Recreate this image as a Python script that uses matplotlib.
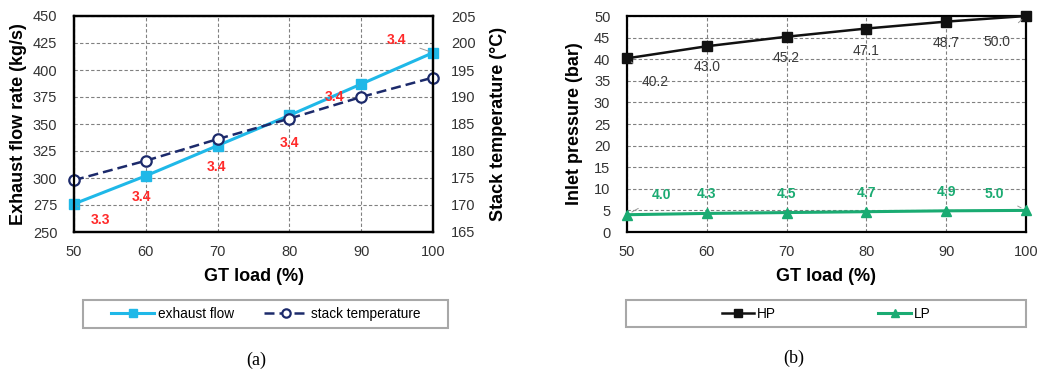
import matplotlib
matplotlib.use("Agg")
import matplotlib.pyplot as plt
from matplotlib.patches import Rectangle

plt.rcParams['font.family'] = ['Liberation Sans', 'DejaVu Sans']

# ---------------- data ----------------
gt_load = [50, 60, 70, 80, 90, 100]
exhaust_flow = [276, 302, 330, 358, 387, 416]          # kg/s
stack_temp = [174.6, 178.2, 182.2, 186.0, 190.0, 193.6]  # deg C
flow_labels = ["3.3", "3.4", "3.4", "3.4", "3.4", "3.4"]

hp_pressure = [40.2, 43.0, 45.2, 47.1, 48.7, 50.0]    # bar
lp_pressure = [4.0, 4.3, 4.5, 4.7, 4.9, 5.0]          # bar

left_yticks = [250, 275, 300, 325, 350, 375, 400, 425, 450]
right_yticks = [165, 170, 175, 180, 185, 190, 195, 200, 205]
press_yticks = [0, 5, 10, 15, 20, 25, 30, 35, 40, 45, 50]
x_ticks = [50, 60, 70, 80, 90, 100]

# ---------------- style ----------------
W, H = 1054, 374
C_FLOW = '#1fb8e8'
C_TEMP = '#1c2a6b'
C_HP = '#111111'
C_LP = '#1aab72'
C_RED = '#ff2a2a'
GRID = dict(linestyle=(0, (3, 2)), color='#808080', linewidth=0.8)
TICKFS = 10.5
LABFS = 13

fig = plt.figure(figsize=(W / 100, H / 100), dpi=100)


def ax_rect(x0, x1, y0, y1):
    return [x0 / W, 1 - y1 / H, (x1 - x0) / W, (y1 - y0) / H]


def style_axis(ax, ypad=12):
    for s in ax.spines.values():
        s.set_color('black')
        s.set_linewidth(1.6)
    ax.tick_params(length=0, labelsize=TICKFS, colors='#333333')
    ax.tick_params(axis='x', pad=9)
    ax.tick_params(axis='y', pad=ypad)


# ---------------- panel (a) ----------------
ax1 = fig.add_axes(ax_rect(74, 433, 16, 232))
ax1.set_xlim(50, 100)
ax1.set_ylim(250, 450)
ax1.set_xticks(x_ticks)
ax1.set_yticks(left_yticks)
ax1.grid(True, **GRID)
ax1.set_axisbelow(True)
style_axis(ax1)
l_flow, = ax1.plot(gt_load, exhaust_flow, color=C_FLOW, lw=2.2, marker='s',
                   markersize=7.5, zorder=3, label='exhaust flow', clip_on=False)
ax1.set_ylabel('Exhaust flow rate (kg/s)', fontsize=LABFS, fontweight='bold', labelpad=4)
ax1.set_xlabel('GT load (%)', fontsize=LABFS, fontweight='bold', labelpad=7)

ax1b = ax1.twinx()
ax1b.set_ylim(165, 205)
ax1b.set_yticks(right_yticks)
style_axis(ax1b, ypad=13)
l_temp, = ax1b.plot(gt_load, stack_temp, color=C_TEMP, lw=1.8, ls=(0, (4, 2)),
                    marker='o', markersize=7.5, markerfacecolor='white',
                    markeredgewidth=1.6, label='stack temperature', clip_on=False)
ax1b.set_ylabel('Stack temperature (°C)', fontsize=LABFS, fontweight='bold', labelpad=10)

flow_offsets = [(19, -11.5), (-3, -15), (-0.5, -15.5), (0, -20), (-19, -9.5), (-26, 9)]
flow_leader = [True, False, False, False, True, True]
for x, y, t, off, lead in zip(gt_load, exhaust_flow, flow_labels, flow_offsets, flow_leader):
    ax1.annotate(t, xy=(x, y), xytext=off, textcoords='offset points',
                 ha='center', va='center', fontsize=10, fontweight='bold', color=C_RED,
                 arrowprops=(dict(arrowstyle='-', color='#999999', lw=0.7,
                                  shrinkA=8, shrinkB=3) if lead else None),
                 zorder=5)

# legend (a)
fig.patches.append(Rectangle((83 / W, 1 - 328 / H), 365 / W, 28 / H, transform=fig.transFigure,
                             facecolor='white', edgecolor='#a8a8a8', lw=1.5))
fig.legend([l_flow, l_temp], ['exhaust flow', 'stack temperature'], loc='center',
           bbox_to_anchor=((83 + 448) / 2 / W, 1 - 314 / H), ncol=2, frameon=False,
           fontsize=9.8, handlelength=3.2, handletextpad=0.25, columnspacing=2.2,
           markerscale=0.8)

# ---------------- panel (b) ----------------
ax2 = fig.add_axes(ax_rect(627, 1026, 16, 232))
ax2.set_xlim(50, 100)
ax2.set_ylim(0, 50)
ax2.set_xticks(x_ticks)
ax2.set_yticks(press_yticks)
ax2.grid(True, **GRID)
ax2.set_axisbelow(True)
style_axis(ax2)
l_hp, = ax2.plot(gt_load, hp_pressure, color=C_HP, lw=1.8, marker='s', markersize=7,
                 zorder=3, label='HP', clip_on=False)
l_lp, = ax2.plot(gt_load, lp_pressure, color=C_LP, lw=2.2, marker='^', markersize=7,
                 zorder=3, label='LP', clip_on=False)
ax2.set_ylabel('Inlet pressure (bar)', fontsize=LABFS, fontweight='bold', labelpad=8)
ax2.set_xlabel('GT load (%)', fontsize=LABFS, fontweight='bold', labelpad=7)

hp_offsets = [(20, -17), (0, -15), (0, -15), (0, -16), (0, -15.5), (-21, -18.5)]
lp_offsets = [(25, 14), (0, 13.7), (0, 13.7), (0, 13.4), (0, 13.7), (-23, 12)]
edge_leader = [True, False, False, False, False, True]
for x, y, off, lead in zip(gt_load, hp_pressure, hp_offsets, edge_leader):
    ax2.annotate(f"{y:.1f}", xy=(x, y), xytext=off, textcoords='offset points',
                 ha='center', va='center', fontsize=10, color='#3a3a3a',
                 arrowprops=(dict(arrowstyle='-', color='#999999', lw=0.7,
                                  shrinkA=10, shrinkB=4) if lead else None), zorder=5)
for x, y, off, lead in zip(gt_load, lp_pressure, lp_offsets, edge_leader):
    ax2.annotate(f"{y:.1f}", xy=(x, y), xytext=off, textcoords='offset points',
                 ha='center', va='center', fontsize=10, fontweight='bold', color=C_LP,
                 arrowprops=(dict(arrowstyle='-', color='#999999', lw=0.7,
                                  shrinkA=9, shrinkB=4) if lead else None), zorder=5)

fig.patches.append(Rectangle((626 / W, 1 - 327 / H), 400 / W, 27 / H, transform=fig.transFigure,
                             facecolor='white', edgecolor='#a8a8a8', lw=1.5))
fig.legend([l_hp, l_lp], ['HP', 'LP'], loc='center',
           bbox_to_anchor=((626 + 1026) / 2 / W, 1 - 313.5 / H), ncol=2, frameon=False,
           fontsize=9.8, handlelength=2.4, handletextpad=0.2, columnspacing=7.5,
           markerscale=0.8)

# panel captions
fig.text(256 / W, 1 - 360 / H, '(a)', ha='center', va='center', fontsize=13,
         family=['Liberation Serif', 'DejaVu Serif'])
fig.text(794 / W, 1 - 358 / H, '(b)', ha='center', va='center', fontsize=13,
         family=['Liberation Serif', 'DejaVu Serif'])

fig.savefig('out.png', dpi=100)
